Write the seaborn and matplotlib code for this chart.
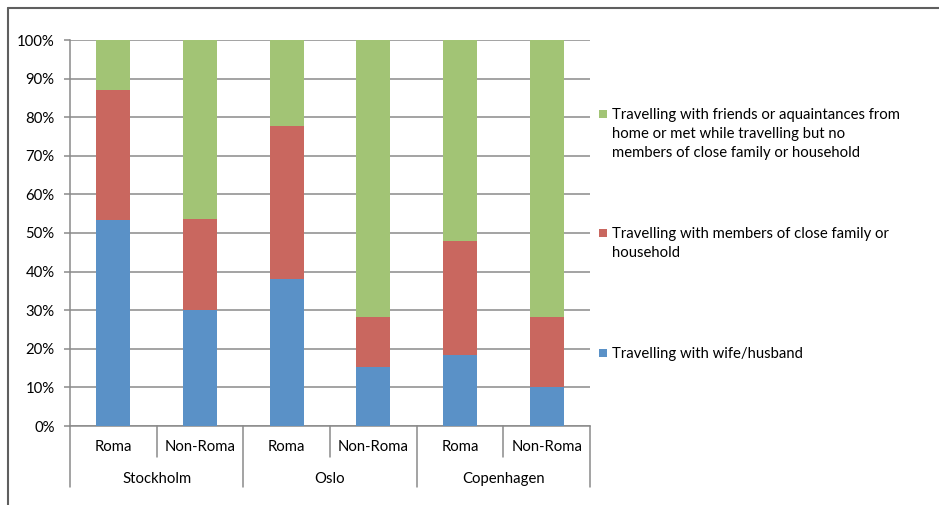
import matplotlib
matplotlib.use("Agg")
import matplotlib.pyplot as plt
import seaborn as sns
import pandas as pd
import numpy as np
from matplotlib.lines import Line2D
from matplotlib.patches import Rectangle
import matplotlib.transforms as mtransforms

# ---- data ----
groups = ["Stockholm", "Oslo", "Copenhagen"]
subgroups = ["Roma", "Non-Roma", "Roma", "Non-Roma", "Roma", "Non-Roma"]
wife_husband = [53.4, 30.0, 38.0, 15.4, 18.4, 10.0]
close_family = [33.6, 23.7, 39.8, 12.9, 29.4, 18.3]
friends = [13.0, 46.3, 22.2, 71.7, 52.2, 71.7]
series_labels = [
    "Travelling with wife/husband",
    "Travelling with members of close family or\nhousehold",
    "Travelling with friends or aquaintances from\nhome or met while travelling but no\nmembers of close family or household",
]
colors = ["#5A91C7", "#C9675F", "#A2C475"]

sns.set_theme(style="white")
plt.rcParams["font.family"] = ["Lato", "DejaVu Sans"]
FS = 10.7

W, H = 939, 505
fig = plt.figure(figsize=(W / 100, H / 100), dpi=100)
L, R, T, B = 70, 590, 40, 426
ax = fig.add_axes([L / W, 1 - B / H, (R - L) / W, (B - T) / H])

pos = [f"c{i}" for i in range(len(subgroups))]
df = pd.DataFrame({
    "pos": pos,
    "blue": wife_husband,
    "red": close_family,
    "green": friends,
})
df["cum_blue"] = df["blue"]
df["cum_red"] = df["blue"] + df["red"]
df["cum_green"] = df["cum_red"] + df["green"]

for col, c in [("cum_green", colors[2]), ("cum_red", colors[1]), ("cum_blue", colors[0])]:
    sns.barplot(data=df, x="pos", y=col, order=pos, color=c, width=0.39,
                saturation=1, ax=ax, zorder=3, linewidth=0)

ax.set_xlim(-0.5, len(pos) - 0.5)
ax.set_ylim(0, 100)
ax.set_yticks(np.arange(0, 101, 10))
ax.set_yticklabels([f"{v}%" for v in range(0, 101, 10)], fontsize=FS, color="black")
ax.grid(axis="y", color="#8A8A8A", linewidth=1.1, zorder=0)
ax.set_axisbelow(True)
ax.set_xlabel("")
ax.set_ylabel("")
for s in ["top", "right"]:
    ax.spines[s].set_visible(False)
for s in ["left", "bottom"]:
    ax.spines[s].set_color("#8A8A8A")
    ax.spines[s].set_linewidth(1.1)
ax.tick_params(axis="y", length=4, width=1.1, color="#8A8A8A", pad=7, left=True)
ax.tick_params(axis="x", length=0, bottom=False, labelbottom=False)

# multi-level category axis
tr = mtransforms.blended_transform_factory(ax.transData, ax.transAxes)
ph = B - T
y_sub = -(447 - B) / ph
y_grp = -(479 - B) / ph
y_inner = -(457 - B) / ph
y_outer = -(487 - B) / ph
for i, lab in enumerate(subgroups):
    ax.text(i, y_sub, lab, transform=tr, ha="center", va="center", fontsize=FS, color="black")
for g, lab in enumerate(groups):
    ax.text(2 * g + 0.5, y_grp, lab, transform=tr, ha="center", va="center", fontsize=FS, color="black")
for k in range(len(pos) + 1):
    yb = y_outer if k % 2 == 0 else y_inner
    ax.add_line(Line2D([k - 0.5, k - 0.5], [0, yb], transform=tr, color="#8A8A8A",
                       linewidth=1.1, clip_on=False))

# legend (manual, Excel-style spread)
leg_y = [353, 233, 114]
for lab, c, yy in zip(series_labels, colors, leg_y):
    fig.patches.append(Rectangle(((599) / W, 1 - (yy + 4) / H), 8 / W, 8 / H,
                                 transform=fig.transFigure, facecolor=c, edgecolor="none"))
    fig.text(612 / W, 1 - (yy - 6) / H, lab, ha="left", va="top", fontsize=FS,
             color="black", linespacing=1.47)

# chart-area frame
fig.add_artist(Line2D([8 / W, 8 / W], [0, 1 - 8 / H], transform=fig.transFigure,
                      color="#5F5F5F", linewidth=1.5))
fig.add_artist(Line2D([8 / W, 1], [1 - 8 / H, 1 - 8 / H], transform=fig.transFigure,
                      color="#5F5F5F", linewidth=1.5))

fig.savefig("out.png", dpi=100)
